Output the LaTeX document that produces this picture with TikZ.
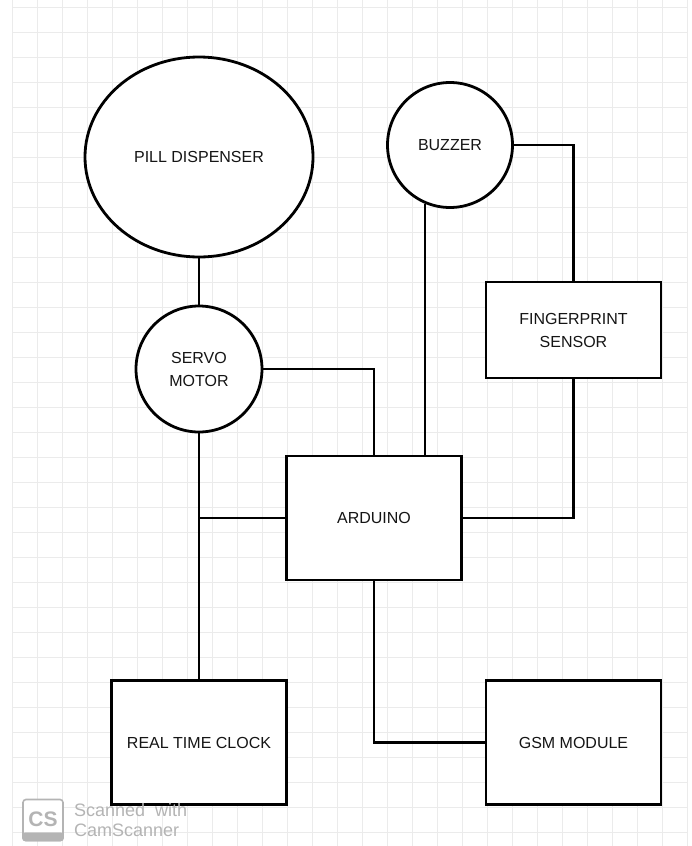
\documentclass[tikz,border=0pt]{standalone}
\usepackage{fontspec}
\setmainfont{Liberation Sans}
\usepackage{tikz}
\usetikzlibrary{shapes.geometric}

\definecolor{gridgray}{HTML}{EBEBEB}
\definecolor{inkgray}{HTML}{151515}
\definecolor{scangray}{HTML}{B4B4B4}

\tikzset{
  part/.style={draw=black,line width=2.8pt,fill=white,text=inkgray,align=center,
    font=\fontsize{16}{23}\selectfont},
  disc/.style={part,circle,minimum size=126pt,inner sep=0pt},
  block/.style={part,rectangle,minimum width=175pt,minimum height=124pt},
  wire/.style={line width=2.8pt}
}

\begin{document}
\begin{tikzpicture}[x=1pt,y=-1pt,node distance=100pt]
      \useasboundingbox (0,0) rectangle (691,846);
      \fill[white] (0,0) rectangle (691,846);
      \foreach \gx in {12,37,...,687} \draw[gridgray,line width=0.8pt] (\gx,0) -- (\gx,846);
      \foreach \gy in {7,32,...,846} \draw[gridgray,line width=0.8pt] (12,\gy) -- (687,\gy);

      \node[part,ellipse,minimum width=228pt,minimum height=200pt,inner sep=0pt] (1) at (199,157) {PILL DISPENSER};
      \node[disc,below of=1,yshift=-112pt] (2) {SERVO\\MOTOR};
      \node[disc,minimum size=125pt,right of=1,xshift=151pt,yshift=12pt] (3) {BUZZER};
      \node[block,minimum height=96pt,below of=3,xshift=123.5pt,yshift=-85pt] (4) {FINGERPRINT\\SENSOR};
      \node[block,below of=2,xshift=175pt,yshift=-49pt] (5) {ARDUINO};
      \node[block,below of=5,xshift=-175pt,yshift=-124.5pt] (6) {REAL TIME CLOCK};
      \node[block,right of=6,xshift=274.5pt] (7) {GSM MODULE};

      \draw[wire] (1) -- (2);
      \draw[wire] (2.east) -| (5.north);
      \draw[wire] (3.247) -- (3.247 |- 5.north);
      \draw[wire] (3.east) -| (4.north);
      \draw[wire] (2.south) -- (6.north);
      \draw[wire] (5.west) -- (5.west -| 2.south);
      \draw[wire] (5.east) -| (4.south);
      \draw[wire] (5.south) |- (7.west);

      % scanner stamp
      \node[draw=scangray,fill=white,line width=1.6pt,rounded corners=3pt,minimum width=40pt,minimum height=41pt,
        text=scangray,font=\fontsize{21}{21}\selectfont\bfseries,inner sep=0pt] (cs) at (43,820) {\raisebox{2pt}{CS}};
      \fill[scangray,rounded corners=3pt] (cs.south west) rectangle ([yshift=9pt]cs.south east);
      \node[text=scangray,align=left,anchor=west,inner sep=0pt,font=\fontsize{18}{19.5}\selectfont] (scan) at (74,820) {Scanned\ \ with\\CamScanner};
    \end{tikzpicture}
\end{document}
